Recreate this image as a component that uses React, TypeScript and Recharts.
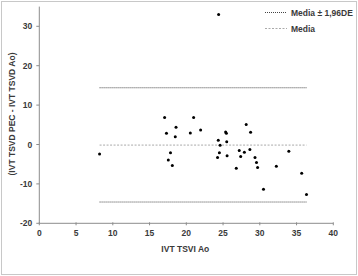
import React from 'react';
import { ComposedChart, Scatter, Line, XAxis, YAxis } from 'recharts';

const pointsX = [8.2, 24.4, 17.05, 17.3, 18.6, 18.5, 17.55, 17.85, 18.1, 21.0, 20.55, 21.95, 24.35, 24.6, 24.5, 24.25, 25.35, 25.45, 25.5, 25.55, 26.8, 27.2, 27.4, 27.9, 28.15, 28.65, 28.75, 29.35, 29.55, 29.7, 30.5, 32.25, 33.95, 35.7, 36.35];
const pointsY = [-2.4, 33.0, 6.85, 2.85, 4.4, 1.95, -3.95, -2.1, -5.3, 6.85, 2.95, 3.7, 1.1, -0.2, -2.1, -3.3, 3.2, 2.85, 0.7, -2.85, -6.0, -1.5, -3.05, -1.95, 5.05, -1.25, 3.1, -3.3, -4.55, -5.85, -11.35, -5.5, -1.7, -7.3, -12.7];

const limitX = [8.2, 36.35];
const upperLimit = 14.4;
const lowerLimit = -14.6;
const meanValue = -0.15;

const xTicks = [0, 5, 10, 15, 20, 25, 30, 35, 40];
const yTicks = [-20, -10, 0, 10, 20, 30];

const legendLimits = 'Media ± 1,96DE';
const legendMean = 'Media';
const xTitle = 'IVT TSVI Ao';
const yTitle = '(IVT TSVD PEC - IVT TSVD Ao)';

const scatterData = pointsX.map((x, i) => ({ x, y: pointsY[i] }));
const upperData = limitX.map((x) => ({ x, y: upperLimit }));
const lowerData = limitX.map((x) => ({ x, y: lowerLimit }));
const meanData = limitX.map((x) => ({ x, y: meanValue }));

const FONT = 'Liberation Sans';
const TEXT = '#3a3a3a';
const AXIS = '#8c8c8c';
const LIMIT = '#444';
const MEAN = '#aaa';

const Dot = (props: any) => <circle cx={props.cx} cy={props.cy} r={1.5} fill="#000" />;

const XTick = (props: any) => {
  const { x, y, payload } = props;
  return (
    <g>
      <line x1={x} x2={x} y1={y - 3} y2={y - 6} stroke={AXIS} />
      <text x={x} y={y + 8} textAnchor="middle" fontSize={8.5} fontFamily={FONT} fontWeight="bold" fill={TEXT}>
        {payload.value}
      </text>
    </g>
  );
};

const YTick = (props: any) => {
  const { x, y, payload } = props;
  return (
    <text x={x - 2} y={y + 3} textAnchor="end" fontSize={8.5} fontFamily={FONT} fontWeight="bold" fill={TEXT}>
      {payload.value}
    </text>
  );
};

const XLabel = (props: any) => {
  const vb = props.viewBox || {};
  return (
    <text x={vb.x + vb.width / 2 - 1} y={vb.y + 29} textAnchor="middle" fontSize={8.5} fontFamily={FONT} fontWeight="bold" fill={TEXT}>
      {xTitle}
    </text>
  );
};

const YLabel = (props: any) => {
  const vb = props.viewBox || {};
  const cx = 14.5;
  const cy = 114;
  return (
    <text x={cx} y={cy} transform={`rotate(-90 ${cx} ${cy})`} textAnchor="middle" fontSize={8.5} fontFamily={FONT} fontWeight="bold" fill={TEXT}>
      {yTitle}
    </text>
  );
};

export default function App() {
  return (
    <div style={{ position: 'absolute', left: 0, top: 0, width: 358, height: 276, background: '#fff' }}>
      <div style={{ position: 'absolute', left: 1, top: 1, width: 354, height: 272, border: '1px solid #c8c8c8' }} />
      <ComposedChart
        width={358}
        height={276}
        margin={{ top: 6.6, right: 24.7, bottom: 22.7, left: 9.3 }}
      >
        <XAxis
          type="number"
          dataKey="x"
          domain={[0, 40]}
          ticks={xTicks}
          interval={0}
          allowDataOverflow
          height={30}
          stroke={AXIS}
          tickLine={false}
          tick={<XTick />}
          tickSize={3}
          label={<XLabel />}
        />
        <YAxis
          type="number"
          dataKey="y"
          domain={[-20, 35]}
          ticks={yTicks}
          interval={0}
          allowDataOverflow
          width={30}
          stroke={AXIS}
          tickSize={3}
          tick={<YTick />}
          label={<YLabel />}
        />
        <Line data={upperData} dataKey="y" stroke={LIMIT} strokeWidth={1} strokeDasharray="1 1" dot={false} isAnimationActive={false} legendType="none" />
        <Line data={lowerData} dataKey="y" stroke={LIMIT} strokeWidth={1} strokeDasharray="1 1" dot={false} isAnimationActive={false} legendType="none" />
        <Line data={meanData} dataKey="y" stroke={MEAN} strokeWidth={1} strokeDasharray="2 1.5" dot={false} isAnimationActive={false} legendType="none" />
        <Scatter data={scatterData} dataKey="y" shape={<Dot />} isAnimationActive={false} legendType="none" />
      </ComposedChart>
      <svg width={95} height={34} style={{ position: 'absolute', left: 263, top: 5 }}>
        <line x1={2} x2={24} y1={7.5} y2={7.5} stroke={LIMIT} strokeWidth={1} strokeDasharray="1 1" />
        <text x={28} y={11} fontSize={8.5} fontFamily={FONT} fontWeight="bold" fill={TEXT}>{legendLimits}</text>
        <line x1={2} x2={24} y1={23.5} y2={23.5} stroke={MEAN} strokeWidth={1} strokeDasharray="2 1.5" />
        <text x={28} y={27} fontSize={8.5} fontFamily={FONT} fontWeight="bold" fill={TEXT}>{legendMean}</text>
      </svg>
    </div>
  );
}
